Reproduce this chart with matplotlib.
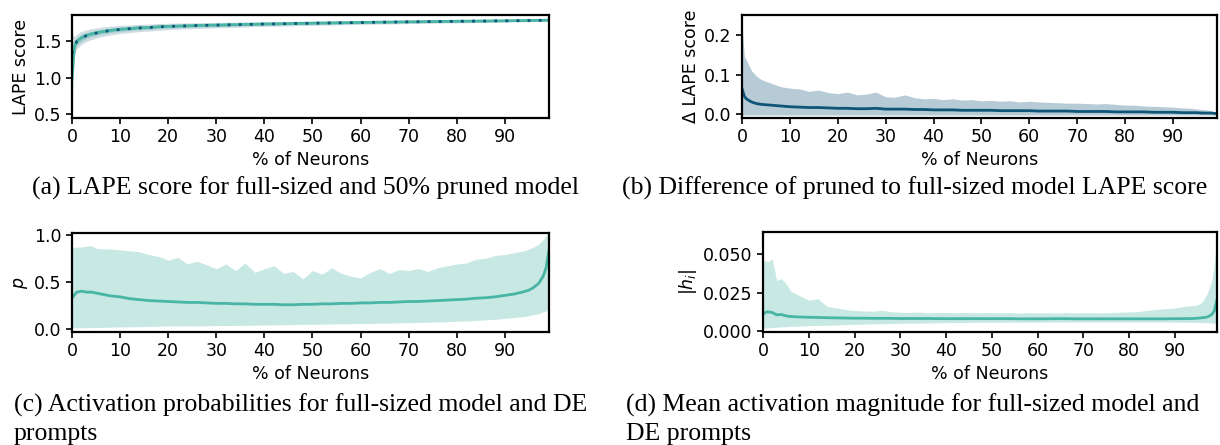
import matplotlib
matplotlib.use("Agg")
import matplotlib.pyplot as plt
from matplotlib.ticker import FormatStrFormatter

# % of neurons (sorted), shared x grid for every panel
X_PCT = [0, 0.5, 1, 2, 3, 4, 5, 6, 8, 10,
         12, 14, 16, 18, 20, 22, 24, 26, 28, 30,
         32, 34, 36, 38, 40, 42, 44, 46, 48, 50,
         52, 54, 56, 58, 60, 62, 64, 66, 68, 70,
         72, 74, 76, 78, 80, 82, 84, 86, 88, 90,
         92, 94, 95, 96, 97, 98, 98.6, 99.2]

# (a) LAPE score, full-sized vs 50% pruned (mean and std)
LAPE_FULL = [1.00, 1.42, 1.50, 1.55, 1.58, 1.60, 1.615, 1.63, 1.65, 1.665,
             1.675, 1.685, 1.69, 1.70, 1.705, 1.71, 1.713, 1.717, 1.72, 1.723,
             1.726, 1.729, 1.732, 1.735, 1.738, 1.74, 1.742, 1.745, 1.747, 1.749,
             1.751, 1.753, 1.755, 1.757, 1.759, 1.761, 1.763, 1.764, 1.766, 1.768,
             1.769, 1.771, 1.772, 1.774, 1.775, 1.777, 1.778, 1.779, 1.781, 1.782,
             1.784, 1.785, 1.786, 1.787, 1.788, 1.789, 1.79, 1.791]
LAPE_FULL_STD = [0.48, 0.07, 0.055, 0.045, 0.04, 0.037, 0.035, 0.033, 0.03, 0.028,
                 0.027, 0.026, 0.025, 0.024, 0.023, 0.022, 0.022, 0.021, 0.021, 0.02,
                 0.02, 0.019, 0.019, 0.019, 0.018, 0.018, 0.018, 0.017, 0.017, 0.017,
                 0.016, 0.016, 0.016, 0.016, 0.015, 0.015, 0.015, 0.015, 0.014, 0.014,
                 0.014, 0.014, 0.014, 0.013, 0.013, 0.013, 0.013, 0.013, 0.012, 0.012,
                 0.012, 0.012, 0.012, 0.012, 0.011, 0.011, 0.011, 0.011]
LAPE_PRUNED = [1.33, 1.44, 1.50, 1.55, 1.578, 1.598, 1.613, 1.628, 1.648, 1.663,
               1.673, 1.683, 1.689, 1.698, 1.704, 1.709, 1.712, 1.716, 1.719, 1.722,
               1.725, 1.728, 1.731, 1.734, 1.737, 1.739, 1.741, 1.744, 1.746, 1.748,
               1.75, 1.752, 1.754, 1.756, 1.758, 1.76, 1.762, 1.763, 1.765, 1.767,
               1.768, 1.77, 1.771, 1.773, 1.774, 1.776, 1.777, 1.778, 1.78, 1.781,
               1.783, 1.784, 1.785, 1.786, 1.787, 1.788, 1.789, 1.79]
LAPE_PRUNED_STD = [0.30, 0.12, 0.10, 0.09, 0.08, 0.075, 0.07, 0.066, 0.06, 0.056,
                   0.053, 0.05, 0.048, 0.046, 0.044, 0.042, 0.041, 0.04, 0.039, 0.037,
                   0.036, 0.035, 0.034, 0.033, 0.032, 0.031, 0.031, 0.03, 0.029, 0.029,
                   0.028, 0.028, 0.027, 0.027, 0.026, 0.025, 0.025, 0.025, 0.024, 0.024,
                   0.023, 0.023, 0.022, 0.022, 0.021, 0.021, 0.02, 0.02, 0.019, 0.019,
                   0.018, 0.018, 0.018, 0.017, 0.017, 0.017, 0.016, 0.016]

# (b) difference pruned - full LAPE score
DIFF_MEAN = [0.065, 0.045, 0.038, 0.031, 0.027, 0.025, 0.024, 0.023, 0.021, 0.019,
             0.018, 0.017, 0.017, 0.016, 0.015, 0.015, 0.014, 0.014, 0.015, 0.013,
             0.013, 0.013, 0.012, 0.012, 0.011, 0.011, 0.011, 0.010, 0.010, 0.010,
             0.010, 0.009, 0.009, 0.009, 0.009, 0.008, 0.008, 0.008, 0.008, 0.007,
             0.007, 0.007, 0.007, 0.006, 0.006, 0.006, 0.006, 0.005, 0.005, 0.005,
             0.004, 0.004, 0.004, 0.003, 0.003, 0.003, 0.002, 0.002]
DIFF_UPPER = [0.225, 0.145, 0.135, 0.11, 0.097, 0.088, 0.083, 0.079, 0.07, 0.066,
              0.064, 0.058, 0.061, 0.055, 0.052, 0.056, 0.049, 0.051, 0.056, 0.044,
              0.043, 0.049, 0.042, 0.039, 0.040, 0.037, 0.039, 0.036, 0.037, 0.034,
              0.035, 0.033, 0.034, 0.031, 0.033, 0.031, 0.030, 0.029, 0.028, 0.028,
              0.027, 0.026, 0.027, 0.025, 0.023, 0.023, 0.021, 0.020, 0.019, 0.018,
              0.016, 0.015, 0.013, 0.012, 0.011, 0.009, 0.007, 0.005]
DIFF_LOWER = [-0.002, -0.002, -0.002, -0.002, -0.002, -0.002, -0.002, -0.002, -0.002, -0.002,
              -0.002, -0.002, -0.002, -0.002, -0.002, -0.002, -0.002, -0.002, -0.002, -0.002,
              -0.002, -0.002, -0.002, -0.002, -0.002, -0.002, -0.002, -0.002, -0.002, -0.002,
              -0.002, -0.002, -0.002, -0.002, -0.002, -0.002, -0.002, -0.002, -0.002, -0.002,
              -0.002, -0.002, -0.002, -0.002, -0.002, -0.002, -0.002, -0.002, -0.002, -0.002,
              -0.002, -0.002, -0.002, -0.002, -0.002, -0.002, -0.002, -0.002]

# (c) activation probabilities, DE prompts
PROB_MEAN = [0.33, 0.36, 0.39, 0.40, 0.39, 0.39, 0.38, 0.37, 0.35, 0.34,
             0.32, 0.31, 0.30, 0.295, 0.29, 0.285, 0.28, 0.28, 0.275, 0.27,
             0.27, 0.265, 0.265, 0.26, 0.26, 0.26, 0.255, 0.255, 0.26, 0.26,
             0.265, 0.265, 0.27, 0.27, 0.275, 0.275, 0.28, 0.28, 0.285, 0.29,
             0.29, 0.295, 0.30, 0.305, 0.31, 0.315, 0.325, 0.33, 0.34, 0.355,
             0.37, 0.395, 0.41, 0.44, 0.48, 0.56, 0.65, 0.84]
PROB_UPPER = [0.86, 0.87, 0.87, 0.87, 0.88, 0.885, 0.86, 0.85, 0.85, 0.84,
              0.83, 0.82, 0.79, 0.77, 0.73, 0.76, 0.69, 0.72, 0.68, 0.64,
              0.69, 0.62, 0.70, 0.60, 0.64, 0.67, 0.59, 0.61, 0.53, 0.62,
              0.58, 0.65, 0.59, 0.56, 0.54, 0.60, 0.64, 0.59, 0.63, 0.62,
              0.64, 0.61, 0.65, 0.67, 0.69, 0.70, 0.74, 0.75, 0.78, 0.79,
              0.81, 0.83, 0.85, 0.87, 0.90, 0.95, 0.99, 1.03]
PROB_LOWER = [0.01, 0.01, 0.01, 0.01, 0.012, 0.012, 0.013, 0.014, 0.016, 0.02,
              0.02, 0.022, 0.024, 0.027, 0.03, 0.03, 0.031, 0.03, 0.032, 0.033,
              0.034, 0.035, 0.036, 0.038, 0.04, 0.041, 0.042, 0.044, 0.046, 0.048,
              0.049, 0.05, 0.052, 0.054, 0.055, 0.057, 0.058, 0.06, 0.063, 0.065,
              0.067, 0.07, 0.072, 0.075, 0.08, 0.083, 0.088, 0.094, 0.10, 0.11,
              0.12, 0.13, 0.14, 0.15, 0.16, 0.18, 0.19, 0.21]

# (d) mean activation magnitude, DE prompts
MAG_MEAN = [0.011, 0.012, 0.0125, 0.012, 0.0105, 0.0107, 0.0098, 0.0094, 0.0091, 0.0089,
            0.0088, 0.0086, 0.0085, 0.0084, 0.0083, 0.0083, 0.0082, 0.0082, 0.0082, 0.0081,
            0.0081, 0.0081, 0.0081, 0.008, 0.008, 0.008, 0.008, 0.008, 0.008, 0.008,
            0.008, 0.008, 0.0079, 0.0079, 0.0079, 0.0079, 0.008, 0.008, 0.0079, 0.0079,
            0.0079, 0.0079, 0.0079, 0.0079, 0.0079, 0.0079, 0.0079, 0.0079, 0.0079, 0.008,
            0.008, 0.0081, 0.0083, 0.0086, 0.009, 0.0105, 0.013, 0.0205]
MAG_UPPER = [0.045, 0.046, 0.045, 0.047, 0.033, 0.034, 0.031, 0.026, 0.023, 0.020,
             0.021, 0.016, 0.015, 0.014, 0.0133, 0.013, 0.0128, 0.0135, 0.0125, 0.0122,
             0.012, 0.0123, 0.0118, 0.0121, 0.012, 0.0118, 0.0121, 0.0117, 0.012, 0.0119,
             0.0118, 0.012, 0.0116, 0.0119, 0.0117, 0.0118, 0.0116, 0.0119, 0.0117, 0.0118,
             0.0119, 0.0117, 0.012, 0.0122, 0.0124, 0.0126, 0.0135, 0.014, 0.0145, 0.015,
             0.016, 0.0165, 0.017, 0.019, 0.024, 0.032, 0.043, 0.063]
MAG_LOWER = [0.0017, 0.0018, 0.002, 0.0022, 0.0024, 0.0026, 0.0028, 0.003, 0.0032, 0.0034,
             0.0036, 0.0037, 0.0039, 0.0041, 0.0043, 0.0044, 0.0046, 0.0047, 0.0048, 0.005,
             0.005, 0.0051, 0.0052, 0.0053, 0.0054, 0.0055, 0.0055, 0.0056, 0.0056, 0.0056,
             0.0056, 0.0057, 0.0057, 0.0057, 0.0057, 0.0057, 0.0058, 0.0058, 0.0058, 0.0058,
             0.0058, 0.0058, 0.0058, 0.0058, 0.0058, 0.0058, 0.0058, 0.0058, 0.0058, 0.0057,
             0.0057, 0.0056, 0.0056, 0.0055, 0.0054, 0.0052, 0.005, 0.0048]

X_TICKS = [0, 10, 20, 30, 40, 50, 60, 70, 80, 90]

CAPTIONS = ["(a) LAPE score for full-sized and 50% pruned model",
            "(b) Difference of pruned to full-sized model LAPE score",
            "(c) Activation probabilities for full-sized model and DE",
            "(d) Mean activation magnitude for full-sized model and"]

TEAL = "#48b5a5"
NAVY = "#0f5577"
AX_FS = 12.5

plt.rcParams["font.family"] = "DejaVu Sans"

W, H = 1220, 445
fig = plt.figure(figsize=(W / 100, H / 100), dpi=100)


def px_axes(left, top, right, bottom):
    # axes from pixel box (top-left origin)
    return fig.add_axes([left / W, 1 - bottom / H, (right - left) / W, (bottom - top) / H])


def style(ax, ylim, yticks, ylabel):
    ax.set_xlim(0, 99.2)
    ax.set_ylim(*ylim)
    ax.set_xticks(X_TICKS)
    ax.set_yticks(yticks)
    ax.set_xlabel("% of Neurons", fontsize=AX_FS, labelpad=3)
    ax.set_ylabel(ylabel, fontsize=AX_FS, labelpad=3)
    ax.tick_params(labelsize=AX_FS, width=1.2, length=4, pad=3.5)
    for s in ax.spines.values():
        s.set_linewidth(1.6)


# (a)
ax_a = px_axes(72, 15, 549, 118)
lo_f = [m - s for m, s in zip(LAPE_FULL, LAPE_FULL_STD)]
hi_f = [m + s for m, s in zip(LAPE_FULL, LAPE_FULL_STD)]
lo_p = [m - s for m, s in zip(LAPE_PRUNED, LAPE_PRUNED_STD)]
hi_p = [m + s for m, s in zip(LAPE_PRUNED, LAPE_PRUNED_STD)]
ax_a.fill_between(X_PCT, lo_f, hi_f, color=TEAL, alpha=0.3, lw=0)
ax_a.fill_between(X_PCT, lo_p, hi_p, color=NAVY, alpha=0.2, lw=0)
ax_a.plot(X_PCT, LAPE_FULL, color=TEAL, lw=2)
ax_a.plot(X_PCT, LAPE_PRUNED, color=NAVY, lw=2, ls=(0, (1, 3)))
style(ax_a, (0.449, 1.861), [0.5, 1.0, 1.5], "LAPE score")

# (b)
ax_b = px_axes(742, 15, 1217, 118)
ax_b.fill_between(X_PCT, DIFF_LOWER, DIFF_UPPER, color=NAVY, alpha=0.3, lw=0)
ax_b.plot(X_PCT, DIFF_MEAN, color=NAVY, lw=2)
style(ax_b, (-0.0095, 0.251), [0.0, 0.1, 0.2], "Δ LAPE score")

# (c)
ax_c = px_axes(72, 233, 549, 332)
ax_c.fill_between(X_PCT, PROB_LOWER, PROB_UPPER, color=TEAL, alpha=0.3, lw=0)
ax_c.plot(X_PCT, PROB_MEAN, color=TEAL, lw=2)
style(ax_c, (-0.035, 1.02), [0.0, 0.5, 1.0], "$p$")

# (d)
ax_d = px_axes(763, 232, 1217, 332)
ax_d.fill_between(X_PCT, MAG_LOWER, MAG_UPPER, color=TEAL, alpha=0.3, lw=0)
ax_d.plot(X_PCT, MAG_MEAN, color=TEAL, lw=2)
style(ax_d, (-0.0007, 0.0645), [0.0, 0.025, 0.05], "$|h_i|$")
ax_d.yaxis.set_major_formatter(FormatStrFormatter("%.3f"))

# sub-captions
cap = dict(family="Liberation Serif", fontsize=18.5, va="baseline")
fig.text(305 / W, 1 - 195 / H, CAPTIONS[0], ha="center", **cap)
fig.text(915 / W, 1 - 195 / H, CAPTIONS[1], ha="center", **cap)
fig.text(14 / W, 1 - 412 / H, CAPTIONS[2], ha="left", **cap)
fig.text(14 / W, 1 - 440 / H, "prompts", ha="left", **cap)
fig.text(626 / W, 1 - 412 / H, CAPTIONS[3], ha="left", **cap)
fig.text(626 / W, 1 - 440 / H, "DE prompts", ha="left", **cap)

fig.savefig("out.png", dpi=100)
